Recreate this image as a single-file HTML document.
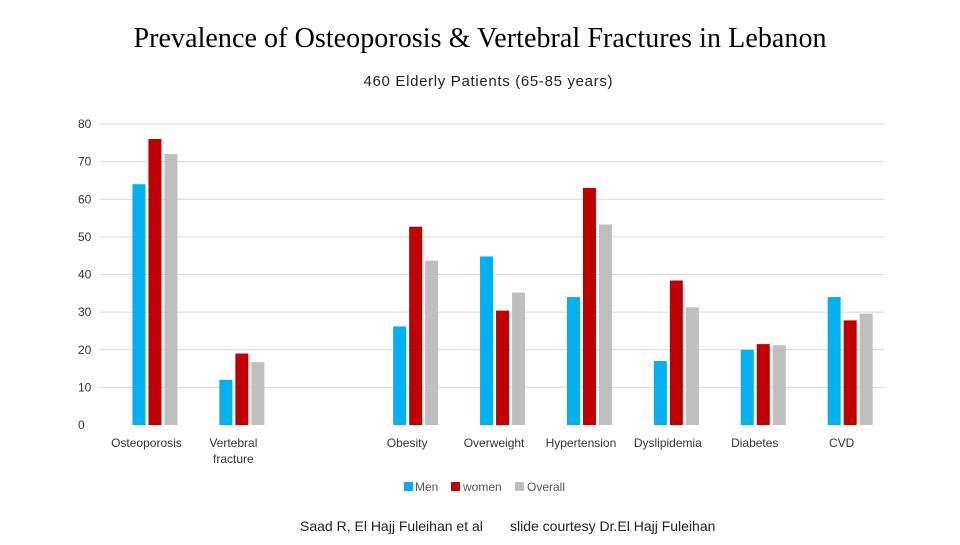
<!DOCTYPE html>
<html><head><meta charset="utf-8"><style>
body{margin:0;background:#fff;width:960px;height:540px;overflow:hidden;font-family:"Liberation Sans",sans-serif}
</style></head><body>
<svg width="960" height="540">
<text x="480" y="47" text-anchor="middle" font-family="Liberation Serif" font-size="28" textLength="693" fill="#000">Prevalence of Osteoporosis &amp; Vertebral Fractures in Lebanon</text>
<text x="488" y="86" text-anchor="middle" font-size="15" textLength="249" fill="#222">460  Elderly Patients (65-85 years)</text>
<g id="grid"></g><g id="bars"></g><g id="xl"></g>
<g font-size="12" fill="#555">
<rect x="404" y="482" width="9" height="9" fill="#00b0f0"/><text x="415" y="491">Men</text>
<rect x="451" y="482" width="9" height="9" fill="#c00000"/><text x="463" y="491">women</text>
<rect x="515" y="482" width="9" height="9" fill="#bfbfbf"/><text x="527" y="491">Overall</text>
</g>
<text x="300" y="531" font-size="14" fill="#222">Saad R, El Hajj Fuleihan et al</text>
<text x="510" y="531" font-size="14" fill="#222">slide courtesy Dr.El Hajj Fuleihan</text>
</svg>
<script>
const categories=["Osteoporosis","Vertebral\nfracture","","Obesity","Overweight","Hypertension","Dyslipidemia","Diabetes","CVD"];
const men=[64,12,null,26.2,44.8,34,17,20,34];
const women=[76,19,null,52.7,30.4,63,38.4,21.5,27.8];
const overall=[72,16.7,null,43.7,35.2,53.3,31.3,21.2,29.6];
const yTicks=[0,10,20,30,40,50,60,70,80];
const NS="http://www.w3.org/2000/svg";
const y=v=>425-v*(301/80);
const x0=111,slot=86.9;
const cx=i=>x0+slot*(i+0.5);
function mk(t,a,p){const e=document.createElementNS(NS,t);for(const k in a)e.setAttribute(k,a[k]);document.getElementById(p).appendChild(e);return e;}
yTicks.forEach(t=>{
 if(t>0){const l=mk("line",{x1:100,x2:884,y1:y(t),y2:y(t),stroke:"#d9d9d9","stroke-width":1},"grid");
 
 }
 const tx=mk("text",{x:78,y:y(t)+4,"font-size":12,fill:"#333"},"grid");tx.textContent=t;
 
 
});
const series=[[men,"#00b0f0","men"],[women,"#c00000","women"],[overall,"#bfbfbf","overall"]];
categories.forEach((c,i)=>{
 series.forEach(([arr,col,nm],s)=>{
  const v=arr[i]; if(v==null)return;
  const bx=cx(i)-22+s*16;
  const r=mk("rect",{x:bx,y:y(v),width:13,height:425-y(v),fill:col},"bars");
  
  
 });
 c.split("\n").forEach((ln,k)=>{
  if(!ln)return;
  const t=mk("text",{x:cx(i)-8,y:447+k*16,"text-anchor":"middle","font-size":12,fill:"#333"},"xl");t.textContent=ln;
  
  
 });
});
</script>
</body></html>
